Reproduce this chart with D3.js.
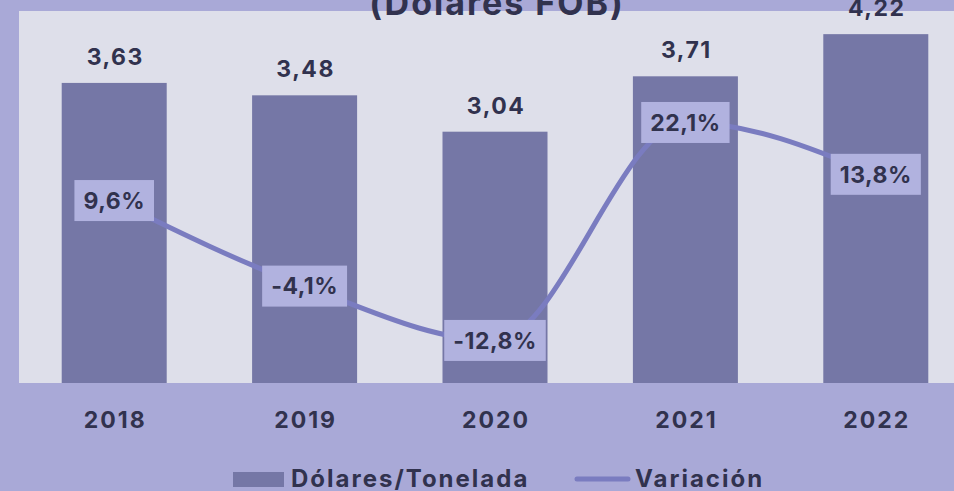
<!DOCTYPE html>
<html>
<head>
<meta charset="utf-8">
<script src="https://cdn.jsdelivr.net/npm/d3@7"></script>
<style>
  body { margin: 0; background: #a9a9d7; }
  svg { display: block; }
  text { font-family: Inter, "Open Sans", sans-serif; font-weight: 700; fill: #31324e; }
</style>
</head>
<body>
<div id="chart"></div>
<script>
// Data
var years = ["2018", "2019", "2020", "2021", "2022"];
var dolares = [3.63, 3.48, 3.04, 3.71, 4.22];
var variacion = [9.6, -4.1, -12.8, 22.1, 13.8];
var valueLabels = ["3,63", "3,48", "3,04", "3,71", "4,22"];
var varLabels = ["9,6%", "-4,1%", "-12,8%", "22,1%", "13,8%"];

var svgWidth = 954;
var svgHeight = 491;

var plot = { left: 19, top: 11, right: 971, bottom: 383 };

var svg = d3.select("#chart")
    .append("svg")
    .attr("width", svgWidth)
    .attr("height", svgHeight);

// background and plot area
svg.append("rect")
    .attr("width", svgWidth)
    .attr("height", svgHeight)
    .attr("fill", "#a9a9d7");

svg.append("rect")
    .attr("x", plot.left)
    .attr("y", plot.top)
    .attr("width", plot.right - plot.left)
    .attr("height", plot.bottom - plot.top)
    .attr("fill", "#dedfea");

// scales
var xScale = d3.scaleBand()
    .domain(years)
    .range([plot.left, plot.right])
    .paddingInner(0.4485)
    .paddingOuter(0.2243);

var yScale = d3.scaleLinear()
    .domain([0, 4.5])
    .range([plot.bottom, plot.top]);

var y2Scale = d3.scaleLinear()
    .domain([-20, 40])
    .range([385.4, 10.7]);

var rows = years.map(function(y, i) {
    return { year: y, value: dolares[i], pct: variacion[i], vLabel: valueLabels[i], pLabel: varLabels[i] };
});

// bars
svg.selectAll("rect.bar")
    .data(rows)
    .enter()
    .append("rect")
    .attr("class", "bar")
    .attr("x", d => xScale(d.year))
    .attr("y", d => yScale(d.value))
    .attr("width", xScale.bandwidth())
    .attr("height", d => yScale(0) - yScale(d.value))
    .attr("fill", "#7577a6");

// title (partly cut off at the top, as in the original)
svg.append("text")
    .attr("x", 497)
    .attr("y", 15)
    .attr("text-anchor", "middle")
    .attr("font-size", "34px")
    .attr("letter-spacing", "2px")
    .text("(Dólares FOB)");

// value labels above the bars
svg.selectAll("text.val")
    .data(rows)
    .enter()
    .append("text")
    .attr("class", "val")
    .attr("x", d => xScale(d.year) + xScale.bandwidth() / 2 + 1)
    .attr("y", d => yScale(d.value) - 18)
    .attr("text-anchor", "middle")
    .attr("font-size", "23px")
    .attr("letter-spacing", "1.5px")
    .text(d => d.vLabel);

// variation line
var line = d3.line()
    .x(d => xScale(d.year) + xScale.bandwidth() / 2)
    .y(d => y2Scale(d.pct))
    .curve(d3.curveMonotoneX);

svg.append("path")
    .datum(rows)
    .attr("d", line)
    .attr("fill", "none")
    .attr("stroke", "#7a7cc0")
    .attr("stroke-width", 5);

// variation labels with boxes
var pctGroups = svg.selectAll("g.pct")
    .data(rows)
    .enter()
    .append("g")
    .attr("class", "pct")
    .attr("transform", d => `translate(${xScale(d.year) + xScale.bandwidth() / 2}, ${y2Scale(d.pct)})`);

pctGroups.append("rect")
    .attr("fill", "#b1b2df");

pctGroups.append("text")
    .attr("text-anchor", "middle")
    .attr("dy", "0.36em")
    .attr("font-size", "23px")
    .attr("letter-spacing", "0.5px")
    .text(d => d.pLabel);

pctGroups.each(function() {
    var g = d3.select(this);
    var w = g.select("text").node().getComputedTextLength();
    g.select("rect")
        .attr("x", -w / 2 - 9)
        .attr("y", -20.5)
        .attr("width", w + 18)
        .attr("height", 41);
});

// x axis labels
svg.selectAll("text.year")
    .data(years)
    .enter()
    .append("text")
    .attr("class", "year")
    .attr("x", d => xScale(d) + xScale.bandwidth() / 2 + 1)
    .attr("y", 428)
    .attr("text-anchor", "middle")
    .attr("font-size", "23px")
    .attr("letter-spacing", "2px")
    .text(d => d);

// legend
var legend = svg.append("g");

legend.append("rect")
    .attr("x", 233)
    .attr("y", 472)
    .attr("width", 51)
    .attr("height", 15)
    .attr("fill", "#7577a6");

legend.append("text")
    .attr("x", 291)
    .attr("y", 487)
    .attr("font-size", "24px")
    .attr("letter-spacing", "2px")
    .text("Dólares/Tonelada");

legend.append("line")
    .attr("x1", 577)
    .attr("x2", 628)
    .attr("y1", 479)
    .attr("y2", 479)
    .attr("stroke", "#7a7cc0")
    .attr("stroke-width", 5)
    .attr("stroke-linecap", "round");

legend.append("text")
    .attr("x", 635)
    .attr("y", 487)
    .attr("font-size", "24px")
    .attr("letter-spacing", "2px")
    .text("Variación");
</script>
</body>
</html>
